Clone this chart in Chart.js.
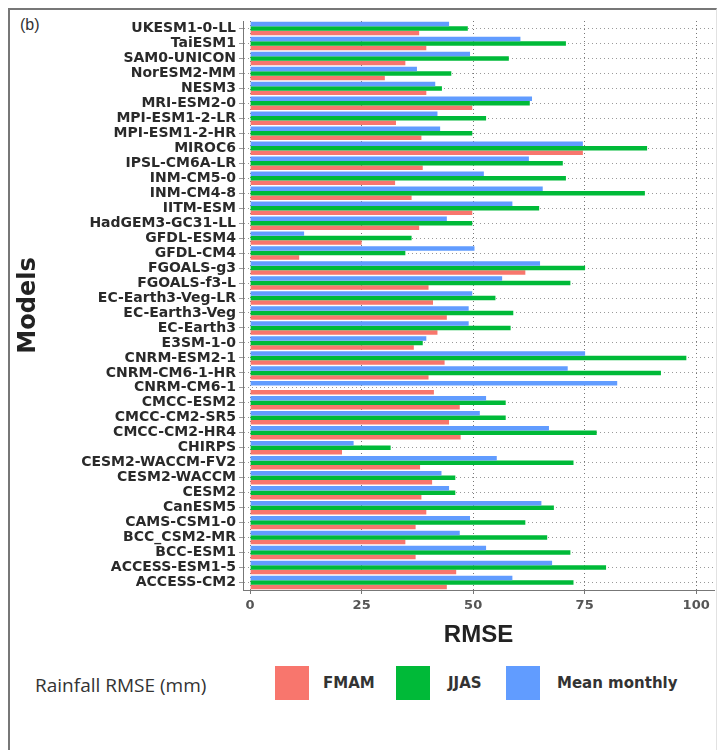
<!DOCTYPE html>
<html>
<head>
<meta charset="utf-8">
<script src="https://cdn.jsdelivr.net/npm/chart.js@4"></script>
<style>
  body { margin: 0; background: #fff; width: 723px; height: 750px; overflow: hidden; position: relative; }
  #frame { position: absolute; left: 8px; top: 8px; width: 706px; height: 760px;
           border-left: 2px solid #777; border-top: 2px solid #777; border-right: 1px solid #e2e2e2; }
  #tag { position: absolute; left: 20px; top: 16px; font: 16px "Liberation Sans", Arial, sans-serif; color: #333; }
  #chart { position: absolute; left: 0; top: 0; }
  #legend { position: absolute; left: 0; top: 664px; width: 723px; height: 40px; }
  .lg-title { position: absolute; left: 35px; top: 8px; font: 19px "Open Sans", sans-serif; color: #333; }
  .sw { position: absolute; top: 2px; width: 34px; height: 34px; }
  .lb { position: absolute; top: 10px; font: bold 15px "DejaVu Sans", sans-serif; color: #333; }
</style>
</head>
<body>
<div id="frame"></div>
<div id="tag">(b)</div>
<canvas id="chart" width="723" height="654"></canvas>
<div id="legend">
  <div class="lg-title">Rainfall RMSE (mm)</div>
  <div class="sw" style="left:275px;background:#F8766D"></div>
  <div class="lb" style="left:323px">FMAM</div>
  <div class="sw" style="left:396px;background:#00BA38"></div>
  <div class="lb" style="left:448px">JJAS</div>
  <div class="sw" style="left:506px;background:#619CFF"></div>
  <div class="lb" style="left:557px">Mean monthly</div>
</div>
<script>
// models listed top to bottom, as in the figure
var models = ["UKESM1-0-LL", "TaiESM1", "SAM0-UNICON", "NorESM2-MM", "NESM3", "MRI-ESM2-0",
    "MPI-ESM1-2-LR", "MPI-ESM1-2-HR", "MIROC6", "IPSL-CM6A-LR", "INM-CM5-0", "INM-CM4-8",
    "IITM-ESM", "HadGEM3-GC31-LL", "GFDL-ESM4", "GFDL-CM4", "FGOALS-g3", "FGOALS-f3-L",
    "EC-Earth3-Veg-LR", "EC-Earth3-Veg", "EC-Earth3", "E3SM-1-0", "CNRM-ESM2-1", "CNRM-CM6-1-HR",
    "CNRM-CM6-1", "CMCC-ESM2", "CMCC-CM2-SR5", "CMCC-CM2-HR4", "CHIRPS", "CESM2-WACCM-FV2",
    "CESM2-WACCM", "CESM2", "CanESM5", "CAMS-CSM1-0", "BCC_CSM2-MR", "BCC-ESM1",
    "ACCESS-ESM1-5", "ACCESS-CM2"];

var fmam = [37.9, 39.5, 34.8, 30.2, 39.5, 49.8, 32.7, 38.4, 74.6, 38.7,
    32.5, 36.2, 49.8, 37.9, 25, 11, 61.7, 40, 41, 44.1,
    42, 36.7, 43.6, 40, 41.2, 47, 44.6, 47.2, 20.6, 38.1,
    40.8, 38.4, 39.5, 37.1, 34.8, 37.1, 46.2, 44.1];

var jjas = [48.8, 70.8, 58, 45.1, 43, 62.7, 52.9, 49.8, 89, 70.1,
    70.8, 88.5, 64.8, 49.8, 36.2, 34.8, 75.1, 71.8, 55, 59,
    58.4, 38.7, 97.8, 92.1, null, 57.3, 57.3, 77.7, 31.5, 72.5,
    46, 46, 68.1, 61.7, 66.6, 71.8, 79.8, 72.5];

var meanMonthly = [44.6, 60.6, 49.3, 37.4, 41.5, 63.2, 42, 42.6, 74.6, 62.5,
    52.4, 65.6, 58.8, 44.1, 12.1, 50.3, 65, 56.5, 49.8, 49,
    49, 39.5, 75.1, 71.2, 82.3, 52.9, 51.5, 67, 23.2, 55.3,
    42.9, 44.6, 65.3, 49.3, 47, 52.9, 67.7, 58.8];

var xTicks = [0, 25, 50, 75, 100];

var ctx = document.getElementById("chart").getContext("2d");
var chart = new Chart(ctx, {
    type: "bar",
    data: {
        labels: models,
        datasets: [
            { label: "Mean monthly", data: meanMonthly, backgroundColor: "#619CFF" },
            { label: "JJAS", data: jjas, backgroundColor: "#00BA38" },
            { label: "FMAM", data: fmam, backgroundColor: "#F8766D" }
        ]
    },
    options: {
        indexAxis: "y",
        responsive: false,
        animation: false,
        devicePixelRatio: 1,
        categoryPercentage: 0.9,
        barPercentage: 1,
        layout: { padding: { left: 10, right: 9, top: 21, bottom: 0 } },
        plugins: {
            legend: { display: false },
            tooltip: { enabled: false }
        },
        scales: {
            x: {
                min: -1.6,
                max: 104,
                afterBuildTicks: function (axis) {
                    axis.ticks = xTicks.map(function (v) { return { value: v }; });
                },
                afterFit: function (axis) { axis.height = 64; },
                grid: { color: "#777", lineWidth: 1, tickLength: 4 },
                border: { display: true, color: "#777", dash: [1, 3] },
                ticks: {
                    color: "#555",
                    padding: 4,
                    font: { family: "DejaVu Sans", weight: "bold", size: 13 }
                },
                title: {
                    display: true,
                    text: "RMSE",
                    color: "#222",
                    padding: { top: 2, bottom: 4 },
                    font: { family: "Liberation Sans", weight: "bold", size: 24 }
                }
            },
            y: {
                afterFit: function (axis) { axis.width = 233; },
                grid: { offset: false, color: "#9a9a9a", lineWidth: 1, tickLength: 4 },
                border: { display: true, color: "#777", dash: [1, 3] },
                ticks: {
                    autoSkip: false,
                    color: "#2a2a2a",
                    padding: 3,
                    font: { family: "DejaVu Sans", weight: "bold", size: 14 }
                },
                title: {
                    display: true,
                    text: "Models",
                    color: "#222",
                    padding: 4,
                    font: { family: "DejaVu Sans", weight: "bold", size: 24 }
                }
            }
        }
    }
});
</script>
</body>
</html>
